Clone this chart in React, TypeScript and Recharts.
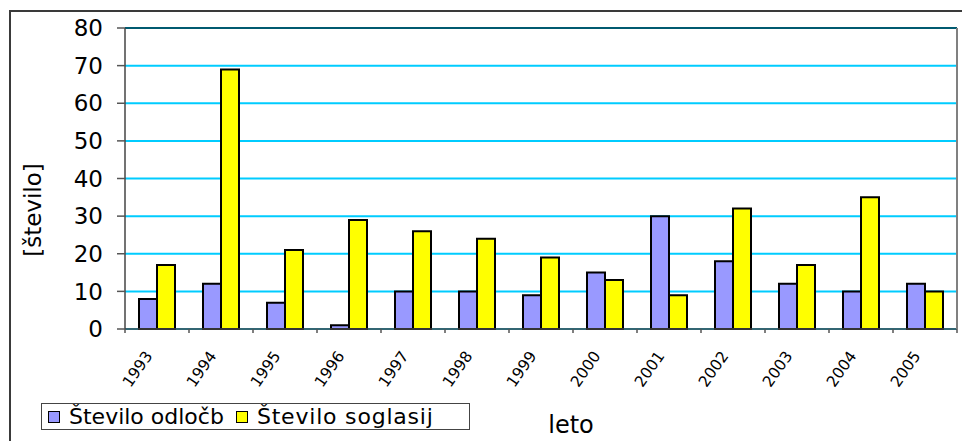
import React from "react";
import { BarChart, Bar, XAxis, YAxis, CartesianGrid, ReferenceLine } from "recharts";

const years = ["1993", "1994", "1995", "1996", "1997", "1998", "1999", "2000", "2001", "2002", "2003", "2004", "2005"];
const odlocb = [8, 12, 7, 1, 10, 10, 9, 15, 30, 18, 12, 10, 12];
const soglasij = [17, 69, 21, 29, 26, 24, 19, 13, 9, 32, 17, 35, 10];
const seriesNames = ["Število odločb", "Število soglasij"];
const seriesColors = ["#9999FF", "#FFFF00"];
const yTicks = [0, 10, 20, 30, 40, 50, 60, 70, 80];

const data = years.map((y, i) => ({ year: y, a: odlocb[i], b: soglasij[i] }));

const FONT = "'DejaVu Sans', Verdana, sans-serif";

const XTick = (props: any) => {
  const { x, y, payload, index, width, visibleTicksCount } = props;
  const n = visibleTicksCount || years.length;
  const band = width / n;
  const top = y - 4;
  const ax = x - 8;
  const ay = y + 20;
  return (
    <g>
      <line x1={x - band / 2} x2={x - band / 2} y1={top} y2={top + 4} stroke="#555" strokeWidth={1.5} />
      {index === n - 1 && (
        <line x1={x + band / 2} x2={x + band / 2} y1={top} y2={top + 4} stroke="#555" strokeWidth={1.5} />
      )}
      <text
        x={ax}
        y={ay}
        textAnchor="end"
        fontSize={15.5}
        fontFamily={FONT}
        fill="#000"
        transform={`rotate(-55, ${ax}, ${ay})`}
        dominantBaseline="central"
      >
        {payload.value}
      </text>
    </g>
  );
};

export default function App() {
  return (
    <div style={{ position: "absolute", left: 0, top: 0, width: 962, height: 441, background: "#fff", overflow: "hidden", fontFamily: FONT }}>
      <div style={{ position: "absolute", left: 9, top: 10, width: 980, height: 460, borderLeft: "2px solid #3a3a3a", borderTop: "2px solid #3a3a3a" }} />
      <BarChart
        width={962}
        height={441}
        data={data}
        margin={{ top: 28, right: 0, left: 0, bottom: 0 }}
        barCategoryGap={14}
        barGap={0}
        style={{ position: "absolute", left: 0, top: 0 }}
      >
        <CartesianGrid yAxisId="l" vertical={false} stroke="#00CCFF" strokeWidth={2} />
        <ReferenceLine yAxisId="l" y={80} stroke="#005A70" strokeWidth={2} />
        <XAxis
          dataKey="year"
          height={112}
          tick={<XTick />}
          tickLine={false}
          tickSize={4}
          tickMargin={0}
          interval={0}
          axisLine={{ stroke: "#444", strokeWidth: 1.5 }}
        />
        <YAxis
          yAxisId="l"
          width={125}
          domain={[0, 80]}
          ticks={yTicks}
          interval={0}
          tickSize={8}
          tickMargin={14}
          axisLine={{ stroke: "#444", strokeWidth: 1.5 }}
          tickLine={{ stroke: "#555", strokeWidth: 1.5 }}
          tick={{ fontSize: 23, fill: "#000", fontFamily: FONT }}
        />
        <YAxis
          yAxisId="r"
          orientation="right"
          width={5}
          domain={[0, 80]}
          tick={false}
          tickLine={false}
          axisLine={{ stroke: "#808080", strokeWidth: 2 }}
        />
        <Bar yAxisId="l" dataKey="a" name={seriesNames[0]} fill={seriesColors[0]} stroke="#000" strokeWidth={2} isAnimationActive={false} />
        <Bar yAxisId="l" dataKey="b" name={seriesNames[1]} fill={seriesColors[1]} stroke="#000" strokeWidth={2} isAnimationActive={false} />
      </BarChart>
      <div
        style={{
          position: "absolute",
          left: 33,
          top: 210,
          transform: "translate(-50%, -50%) rotate(-90deg)",
          fontSize: 23,
          whiteSpace: "nowrap",
          color: "#000",
          lineHeight: 1,
        }}
      >
        [število]
      </div>
      <div
        style={{
          position: "absolute",
          left: 571,
          top: 425,
          transform: "translate(-50%, -50%)",
          fontSize: 24,
          whiteSpace: "nowrap",
          color: "#000",
        }}
      >
        leto
      </div>
      <div
        style={{
          position: "absolute",
          left: 41,
          top: 403,
          width: 427,
          height: 25,
          border: "1px solid #444",
          display: "flex",
          alignItems: "center",
          fontSize: 22,
          whiteSpace: "nowrap",
          color: "#000",
          boxSizing: "content-box",
        }}
      >
        {seriesNames.map((n, i) => (
          <span key={n} style={{ display: "inline-flex", alignItems: "center", marginLeft: i === 0 ? 6 : 12, letterSpacing: i === 0 ? 0 : 0.8 }}>
            <span style={{ display: "inline-block", width: 10, height: 10, background: seriesColors[i], border: "1.5px solid #000", marginRight: 9 }} />
            {n}
          </span>
        ))}
      </div>
    </div>
  );
}
